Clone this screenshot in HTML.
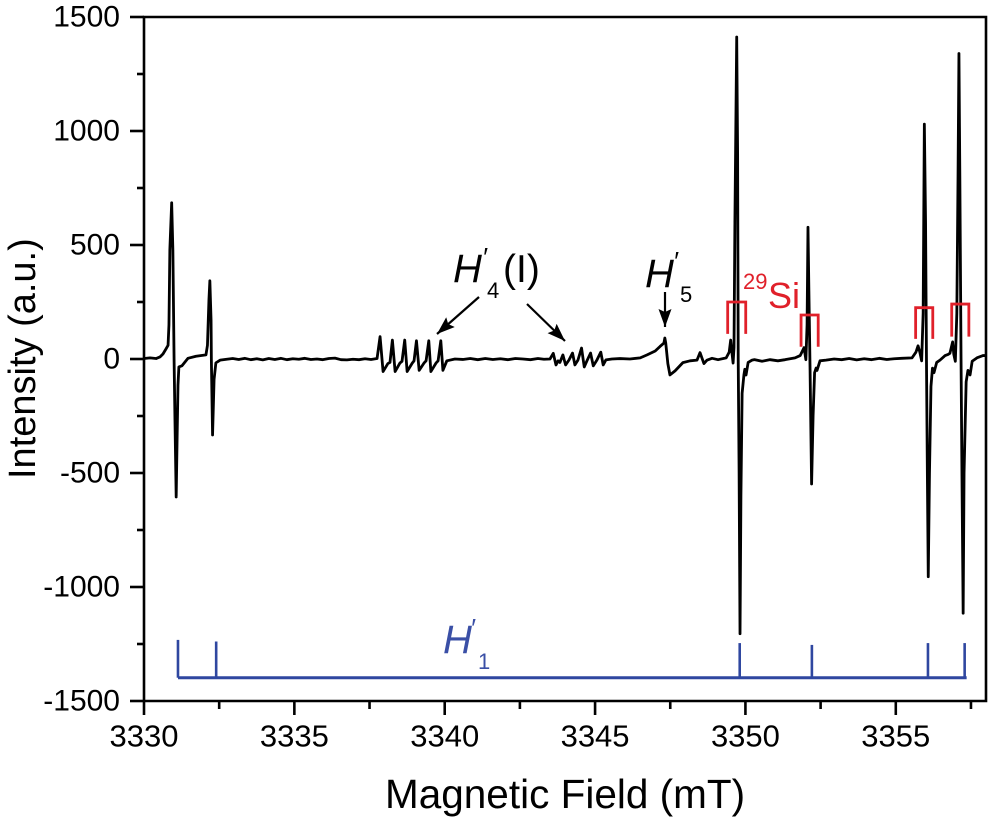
<!DOCTYPE html>
<html lang="en">
<head>
<meta charset="utf-8">
<title>Magnetic field spectrum</title>
<style>
  html, body { margin: 0; padding: 0; background: #fff; }
  svg { display: block; font-family: "Liberation Sans", sans-serif; }
</style>
</head>
<body>
<svg id="chart" xmlns="http://www.w3.org/2000/svg" width="995" height="825" viewBox="0 0 995 825">
  <defs>
    <marker id="arrow-head" markerUnits="userSpaceOnUse" markerWidth="20" markerHeight="14" refX="18" refY="6.5" orient="auto">
      <path d="M0,0 L18,6.5 L0,13 L3,6.5 Z" fill="#000"></path>
    </marker>
  </defs>
  <rect x="0" y="0" width="995" height="825" fill="#fff"></rect>
  <g id="axes"></g>
  <g id="series"></g>
  <g id="si-brackets"></g>
  <g id="h1-comb"></g>

  <text transform="translate(35,479) rotate(-90)" font-size="38" fill="#000">Intensity (a.u.)</text>
  <text x="385" y="808" font-size="40.5" fill="#000">Magnetic Field (mT)</text>

  <g fill="#000">
    <text x="453" y="282" font-size="40" font-style="italic">H</text>
    <text x="482" y="266" font-size="26" font-style="italic">′</text>
    <text x="487" y="298" font-size="22">4</text>
    <text x="503" y="282" font-size="39">(I)</text>
  </g>
  <line x1="479" y1="297" x2="437" y2="334" stroke="#000" stroke-width="2.2" marker-end="url(#arrow-head)"></line>
  <line x1="527" y1="304" x2="565" y2="341" stroke="#000" stroke-width="2.2" marker-end="url(#arrow-head)"></line>

  <g fill="#000">
    <text x="645" y="287" font-size="40" font-style="italic">H</text>
    <text x="673" y="270" font-size="26" font-style="italic">′</text>
    <text x="680" y="302" font-size="22">5</text>
  </g>
  <line x1="665" y1="292" x2="665" y2="327" stroke="#000" stroke-width="2.2" marker-end="url(#arrow-head)"></line>

  <g fill="#e0202a">
    <text x="743" y="289" font-size="22">29</text>
    <text x="768" y="308" font-size="36">Si</text>
  </g>

  <g fill="#3a4fa6">
    <text x="443" y="653" font-size="40" font-style="italic">H</text>
    <text x="470" y="637" font-size="26" font-style="italic">′</text>
    <text x="478" y="669" font-size="22">1</text>
  </g>
</svg>

<script>
// Spectrum values
const fieldValues = [
  3330.00,3330.20,3330.40,3330.53,3330.63,3330.73,3330.80,3330.83,3330.86,3330.92,3330.96,3331.00,3331.03,3331.07,3331.10,3331.13,3331.16,3331.26,3331.46,3331.73,3332.06,
  3332.11,3332.16,3332.19,3332.23,3332.24,3332.28,3332.33,3332.39,3332.53,
  3332.75,3332.95,3333.15,3333.35,3333.55,3333.75,3333.95,3334.15,3334.35,3334.55,3334.75,3334.95,3335.15,3335.35,3335.55,3335.75,3335.95,3336.15,3336.35,3336.55,3336.75,3336.95,3337.15,3337.35,3337.55,3337.75,
  3337.85,3337.95,3338.11,3338.18,3338.26,3338.35,3338.51,3338.58,3338.67,3338.75,3338.92,3338.98,3339.06,3339.15,3339.31,3339.38,3339.47,3339.54,3339.71,3339.78,3339.87,3339.94,3340.07,3340.34,
  3340.60,3340.85,3341.10,3341.35,3341.60,3341.85,3342.10,3342.35,3342.60,3342.85,3343.10,3343.30,3343.50,
  3343.61,3343.70,3343.77,3343.83,3343.93,3344.02,3344.13,3344.25,3344.33,3344.43,3344.55,3344.64,3344.73,3344.85,3344.94,3345.06,3345.19,3345.27,3345.36,3345.56,
  3345.83,3346.16,3346.50,3346.73,3347.00,3347.16,3347.29,3347.32,3347.35,3347.42,3347.49,3347.66,3347.92,3348.16,3348.39,3348.49,3348.62,3348.72,3348.89,3349.09,3349.36,3349.46,3349.51,3349.55,3349.59,3349.62,
  3349.65,3349.71,3349.74,3349.76,3349.79,3349.82,3349.85,3349.89,3349.95,3349.98,3350.02,3350.09,3350.22,
  3350.30,3350.55,3350.82,3351.08,3351.32,3351.65,3351.82,3351.95,3352.01,3352.05,3352.08,3352.11,3352.15,3352.20,3352.25,3352.30,3352.35,3352.38,3352.48,3352.68,
  3352.95,3353.20,3353.45,3353.70,3353.95,3354.20,3354.45,3354.70,3354.95,3355.20,3355.54,3355.67,3355.74,3355.80,3355.86,3355.91,3355.95,3355.99,3356.02,3356.05,3356.08,3356.12,3356.17,3356.22,3356.27,3356.36,3356.47,3356.64,3356.74,3356.80,3356.89,3356.93,3356.98,
  3357.03,3357.07,3357.10,3357.13,3357.17,3357.20,3357.24,3357.27,3357.34,3357.40,3357.47,3357.54,3357.70,3357.90,3358.00
];
const intensityValues = [
  2,5,2,9,22,44,60,150,480,685,478,0,-268,-605,-355,-115,-35,-30,3,12,18,
  60,260,343,170,0,-333,-90,-17,-5,
  -1,2,-2,3,-3,1,-4,2,-2,3,-3,1,-1,3,-2,0,-3,2,4,-3,-4,-1,-3,1,-2,2,
  98,-55,-20,-15,83,-55,-18,-10,83,-55,-18,-8,80,-50,-18,-8,80,-55,-18,-8,80,-50,-8,0,
  -2,2,-3,2,-2,1,-3,2,0,-3,2,-1,0,
  25,-26,-8,-15,18,-26,-5,26,-26,-5,48,-35,-8,26,-30,-5,30,-26,-4,0,
  2,0,5,18,35,55,70,92,70,-20,-70,-52,-16,-8,-5,28,-20,-5,3,-3,5,30,83,30,-18,50,
  600,1412,900,0,-500,-1205,-600,-150,-70,-45,-70,-15,-5,
  -3,-10,-3,-8,-3,5,15,50,-3,150,578,300,-50,-548,-250,-60,-40,-50,-8,-5,
  0,-3,2,-4,1,-3,3,-2,1,3,5,30,58,30,-8,200,1030,600,0,-500,-955,-500,-120,-40,-60,-15,-5,15,20,25,75,20,-10,
  200,800,1340,800,0,-500,-1115,-500,-100,-50,-70,-10,5,15,15
];

// Axis tick labels
const xMajorTicks = [3330,3335,3340,3345,3350,3355];
const xMinorTicks = [3332.5,3337.5,3342.5,3347.5,3352.5,3357.5];
const yMajorTicks = [1500,1000,500,0,-500,-1000,-1500];
const yMinorTicks = [1250,750,250,-250,-750,-1250];

// H1 line positions: field, top of the marker
const h1Fields = [3331.13,3332.40,3349.81,3352.21,3356.07,3357.29];
const h1Tops = [-1232,-1239,-1246,-1254,-1246,-1246];
const h1Base = -1398;

// 29Si satellite brackets
const siLow = [3349.41,3351.85,3355.66,3356.86];
const siHigh = [3350.01,3352.42,3356.23,3357.43];
const siTop = [250,193,225,241];
const siBottom = [110,54,88,98];

const NS = 'http://www.w3.org/2000/svg';
const plot = { left: 144, right: 986, top: 17, bottom: 701 };
const xMin = 3330, xMax = 3358, yMin = -1500, yMax = 1500;
function xScale(v) { return plot.left + (v - xMin) / (xMax - xMin) * (plot.right - plot.left); }
function yScale(v) { return plot.bottom - (v - yMin) / (yMax - yMin) * (plot.bottom - plot.top); }

function make(tag, parent, attrs, text) {
  const el = document.createElementNS(NS, tag);
  for (const k in attrs) el.setAttribute(k, attrs[k]);
  if (text !== undefined) el.textContent = text;
  parent.appendChild(el);
  return el;
}

const axes = document.getElementById('axes');
const stroke = { stroke: '#000', 'stroke-width': 2.6, fill: 'none' };

const frame = make('path', axes, Object.assign({
  d: 'M' + plot.left + ',' + plot.bottom + ' V' + plot.top + ' H' + plot.right + ' V' + plot.bottom + ' H' + plot.left
}, stroke));



xMajorTicks.forEach(function (v) {
  const t = make('line', axes, Object.assign({ x1: xScale(v), x2: xScale(v), y1: plot.bottom, y2: plot.bottom + 14 }, stroke));
  
  
  const l = make('text', axes, { x: xScale(v), y: 746.5, 'font-size': 31, 'text-anchor': 'middle', fill: '#000' }, String(v));
  
  
});
xMinorTicks.forEach(function (v) {
  const t = make('line', axes, Object.assign({ x1: xScale(v), x2: xScale(v), y1: plot.bottom, y2: plot.bottom + 8 }, stroke));
  
  
});
yMajorTicks.forEach(function (v) {
  const t = make('line', axes, Object.assign({ x1: plot.left - 14, x2: plot.left, y1: yScale(v), y2: yScale(v) }, stroke));
  
  
  const l = make('text', axes, { x: 120, y: yScale(v) + 9.5, 'font-size': 30, 'text-anchor': 'end', fill: '#000' }, String(v));
  
  
});
yMinorTicks.forEach(function (v) {
  const t = make('line', axes, Object.assign({ x1: plot.left - 7, x2: plot.left, y1: yScale(v), y2: yScale(v) }, stroke));
  
  
});

const series = document.getElementById('series');
const linePath = make('path', series, {
  d: fieldValues.map(function (f, i) {
    return (i ? 'L' : 'M') + xScale(f).toFixed(2) + ',' + yScale(intensityValues[i]).toFixed(2);
  }).join(' '),
  fill: 'none', stroke: '#000', 'stroke-width': 2.8, 'stroke-linejoin': 'round'
});



const brackets = document.getElementById('si-brackets');
siLow.forEach(function (lo, i) {
  const b = make('path', brackets, {
    d: 'M' + xScale(lo) + ',' + yScale(siBottom[i]) + ' V' + yScale(siTop[i]) + ' H' + xScale(siHigh[i]) + ' V' + yScale(siBottom[i]),
    fill: 'none', stroke: '#e0202a', 'stroke-width': 2.8
  });
  
  
});

const comb = document.getElementById('h1-comb');
const combLine = make('line', comb, {
  x1: xScale(h1Fields[0]), x2: xScale(h1Fields[h1Fields.length - 1]) + 2,
  y1: yScale(h1Base), y2: yScale(h1Base), stroke: '#2f47a0', 'stroke-width': 3
});


h1Fields.forEach(function (f, i) {
  const t = make('line', comb, {
    x1: xScale(f), x2: xScale(f), y1: yScale(h1Base), y2: yScale(h1Tops[i]), stroke: '#2f47a0', 'stroke-width': 2.6
  });
  
  
});
</script>
</body>
</html>
